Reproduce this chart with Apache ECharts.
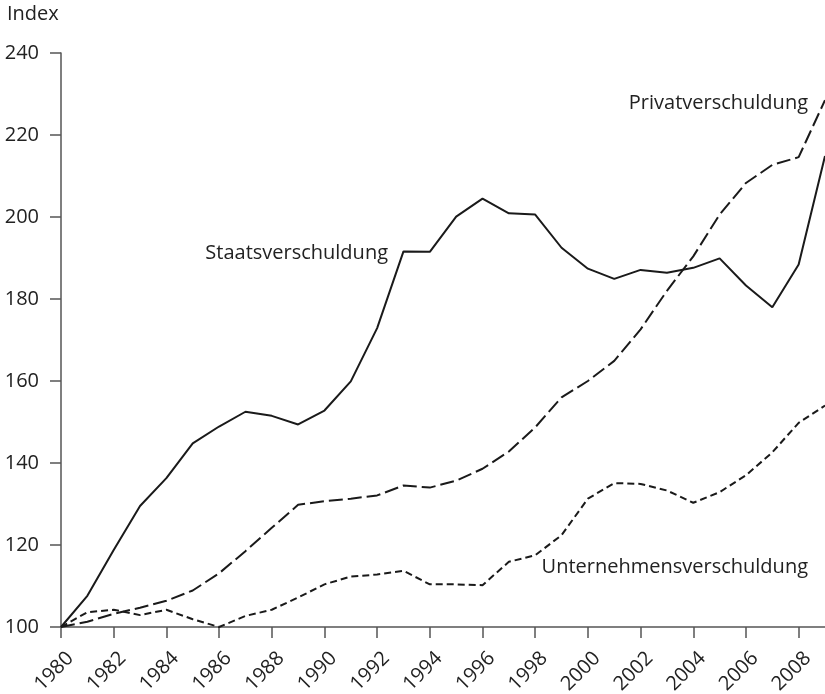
<!DOCTYPE html>
<html>
<head>
<meta charset="utf-8">
<script src="https://cdn.jsdelivr.net/npm/echarts@6/dist/echarts.min.js"></script>
<style>
html,body{margin:0;padding:0;background:#fff;}
#chart{width:825px;height:694px;}
</style>
</head>
<body>
<div id="chart"></div>
<script>
const years = ['1980','1981','1982','1983','1984','1985','1986','1987','1988','1989','1990','1991','1992','1993','1994','1995','1996','1997','1998','1999','2000','2001','2002','2003','2004','2005','2006','2007','2008','2009'];
const staat = [100,107.6,118.8,129.5,136.3,144.8,148.9,152.5,151.5,149.4,152.8,159.9,172.9,191.6,191.5,200.1,204.5,200.9,200.6,192.5,187.4,184.9,187.1,186.4,187.6,189.9,183.3,178,188.4,214.9];
const privat = [100,101.3,103.2,104.7,106.4,108.9,113.1,118.5,124.2,129.8,130.7,131.3,132.1,134.5,134,135.7,138.6,142.8,148.7,156,160,164.9,172.6,182,190.4,200.6,208.3,212.7,214.6,228.5];
const unternehmen = [100,103.6,104.2,102.9,104.2,101.9,100,102.7,104.2,107.2,110.4,112.3,112.8,113.7,110.4,110.4,110.2,115.9,117.5,122.4,131.3,135.1,134.9,133.3,130.3,132.9,137,142.6,149.8,154];
const yTicks = {min:100, max:240, interval:20};
const seriesNames = ['Staatsverschuldung','Privatverschuldung','Unternehmensverschuldung'];

const FONT = '"Open Sans", "Noto Sans", sans-serif';
const TXT = '#222';
const chart = echarts.init(document.getElementById('chart'), null, {renderer:'canvas'});
chart.setOption({
  animation:false,
  backgroundColor:'#fff',
  grid:{left:61, right:0, top:53, bottom:67, containLabel:false, outerBoundsMode:'none'},
  xAxis:{
    type:'category', data:years, boundaryGap:false,
    axisLine:{lineStyle:{color:'#555', width:1.5}},
    axisTick:{interval:1, length:11, lineStyle:{color:'#555', width:1.5}},
    axisLabel:{interval:1, rotate:45, margin:19, fontSize:20, lineHeight:26, verticalAlign:'top', fontFamily:FONT, color:TXT, hideOverlap:false}
  },
  yAxis:{
    type:'value', min:yTicks.min, max:yTicks.max, interval:yTicks.interval,
    splitLine:{show:false},
    axisLine:{show:true, lineStyle:{color:'#555', width:1.5}},
    axisTick:{show:true, length:11, lineStyle:{color:'#555', width:1.5}},
    axisLabel:{margin:22, fontSize:20, fontFamily:FONT, color:TXT}
  },
  graphic:[
    {type:'text', left:7, top:4, style:{text:'Index', font:'20px '+FONT, fill:TXT}},
    {type:'text', right:437, top:243, style:{text:seriesNames[0], font:'20px '+FONT, fill:TXT}},
    {type:'text', right:17, top:93, style:{text:seriesNames[1], font:'20px '+FONT, fill:TXT}},
    {type:'text', right:17, top:557, style:{text:seriesNames[2], font:'20px '+FONT, fill:TXT}}
  ],
  series:[
    {name:seriesNames[0], type:'line', data:staat, symbol:'none', lineStyle:{color:'#1a1a1a', width:2}},
    {name:seriesNames[1], type:'line', data:privat, symbol:'none', lineStyle:{color:'#1a1a1a', width:2, type:[14,5]}},
    {name:seriesNames[2], type:'line', data:unternehmen, symbol:'none', lineStyle:{color:'#1a1a1a', width:2, type:[7,4]}}
  ]
});
</script>
</body>
</html>
